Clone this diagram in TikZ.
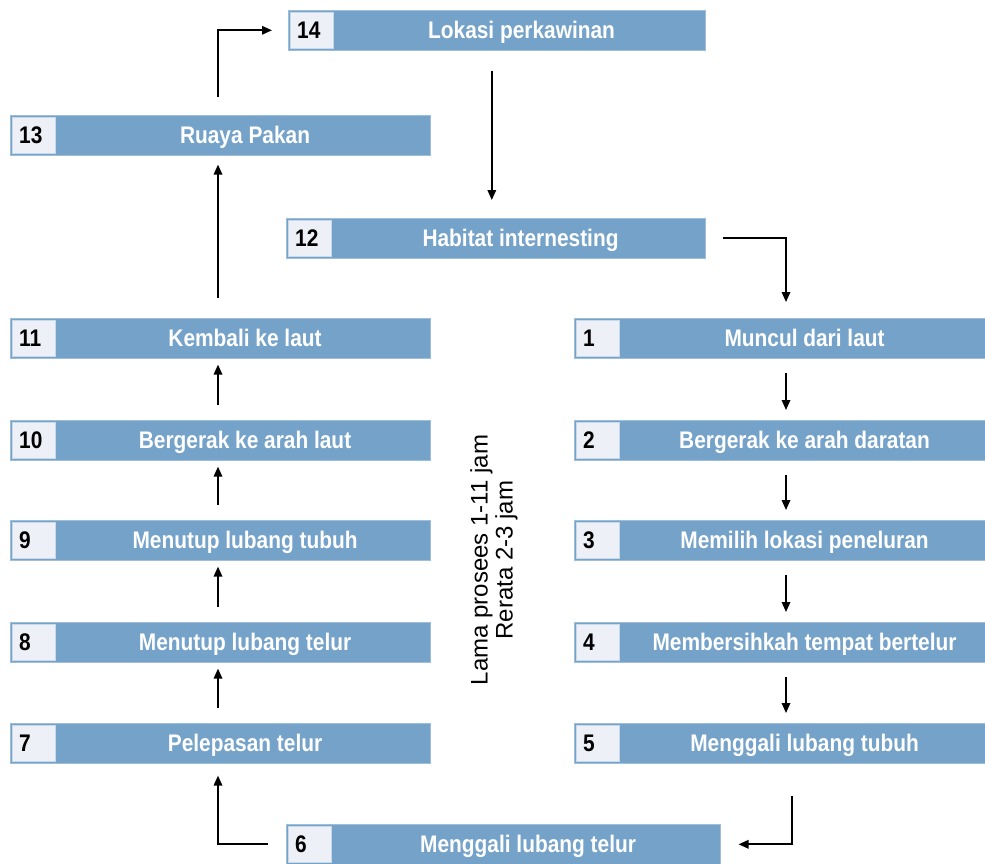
\documentclass[tikz,border=0pt]{standalone}
\usepackage{fontspec}
\setmainfont{Liberation Sans}
\newfontfamily\barfont[FakeStretch=0.87]{Liberation Sans}
\usetikzlibrary{arrows.meta, calc, positioning}
\definecolor{barblue}{RGB}{117,162,201}
\definecolor{numgrey}{RGB}{237,240,246}

\tikzset{
  bar/.style={rectangle, fill=barblue, draw=barblue!70!white, line width=0.6pt,
    minimum height=40pt, inner sep=0pt},
  numbox/.style={rectangle, fill=numgrey, draw=barblue!40!white, line width=0.5pt,
    minimum width=43pt, minimum height=36pt, inner sep=0pt},
  numtext/.style={inner sep=0pt, font=\barfont\bfseries\fontsize{24}{26}\selectfont},
  bartext/.style={text=white, inner sep=0pt,
    font=\barfont\bfseries\fontsize{24}{26}\selectfont},
  flow/.style={line width=1.7pt, -{Triangle[length=10pt,width=8.5pt]}}
}

\begin{document}
\begin{tikzpicture}[x=1pt,y=-1pt]
  \useasboundingbox (0,0) rectangle (985,864);

  % Stages of the nesting cycle
  \foreach \id/\x/\y/\w/\txt in {
      14/288/10/417/Lokasi perkawinan,
      13/10/115/420/Ruaya Pakan,
      12/286/218/419/Habitat internesting,
      11/10/318/420/Kembali ke laut,
      10/10/420/420/Bergerak ke arah laut,
      9/10/520/420/Menutup lubang tubuh,
      8/10/622/420/Menutup lubang telur,
      7/10/723/420/Pelepasan telur,
      1/574/318/411/Muncul dari laut,
      2/574/420/411/Bergerak ke arah daratan,
      3/574/520/411/Memilih lokasi peneluran,
      4/574/622/411/Membersihkah tempat bertelur,
      5/574/723/411/Menggali lubang tubuh,
      6/286/824/434/Menggali lubang telur}
  {
    \node[bar, minimum width=\w pt, anchor=north west] (b\id) at (\x,\y) {};
    \node[numbox, anchor=west] (n\id) at ([xshift=2pt]b\id.west) {};
    \node[numtext, anchor=base west] (k\id) at ([xshift=7pt, yshift=-8pt]n\id.west) {\id};
    \node[bartext, anchor=base] (t\id) at ([xshift=2pt, yshift=-8pt]$(n\id.east)!0.5!(b\id.east)$) {\txt};
  }

  % Columns of the connectors
  \coordinate (lcol) at (218,0);
  \coordinate (rcol) at (786,0);

  % Top of the cycle
  \draw[flow, shorten <=18pt, shorten >=16pt] (lcol |- b13.north) |- (b14.west);
  \draw[flow, shorten <=20pt, shorten >=18pt] ([xshift=-5pt]b14.south) -- ([xshift=-5pt]b14.south |- b12.north);
  \draw[flow, shorten <=17pt, shorten >=16pt] (b12.east) -| (rcol |- b1.north);

  % Right column, going down
  \foreach \a/\b in {1/2, 2/3, 3/4, 4/5}
    \draw[flow, shorten <=14pt, shorten >=10pt] (rcol |- b\a.south) -- (rcol |- b\b.north);

  % Bottom of the cycle
  \draw[flow, shorten <=32pt, shorten >=18pt] ([xshift=6pt]rcol |- b5.south) |- (b6.east);
  \draw[flow, shorten <=18pt, shorten >=12pt] (b6.west) -| (lcol |- b7.south);

  % Left column, going up
  \foreach \a/\b in {7/8, 8/9, 9/10, 10/11}
    \draw[flow, shorten <=15pt, shorten >=6pt] (lcol |- b\a.north) -- (lcol |- b\b.south);
  \draw[flow, shorten <=20pt, shorten >=9pt] (lcol |- b11.north) -- (lcol |- b13.south);

  % Duration of the process
  \node[rotate=90, align=center, font=\fontsize{24}{25}\selectfont] (dur) at (494,560)
    {Lama prosees 1-11 jam\\Rerata 2-3 jam};
\end{tikzpicture}
\end{document}
